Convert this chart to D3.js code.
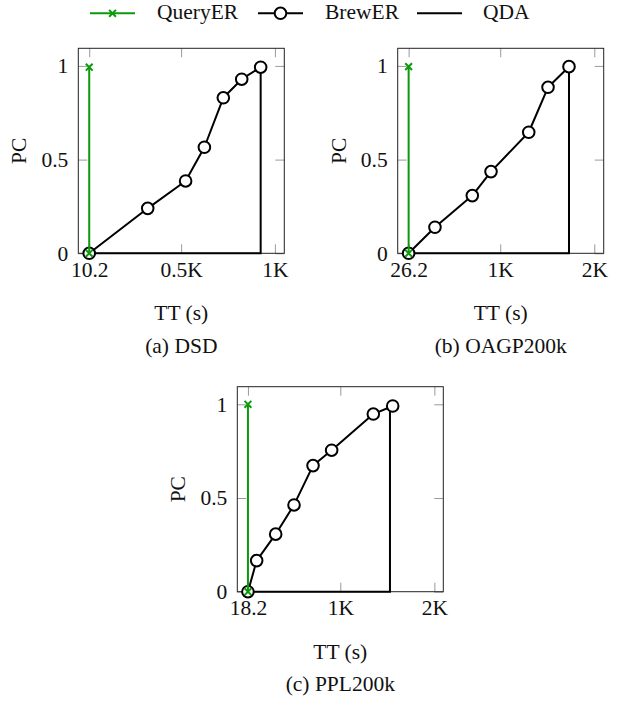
<!DOCTYPE html>
<html>
<head>
<meta charset="utf-8">
<script src="https://cdn.jsdelivr.net/npm/d3@7"></script>
<style>
  body { margin: 0; background: #fff; }
  svg text { font-family: "Liberation Serif", "Times New Roman", "DejaVu Serif", serif !important; fill: #111; }
</style>
</head>
<body>
<script>
// ---- data ----------------------------------------------------------------
var seriesNames = ["QueryER", "BrewER", "QDA"];
var panelCaptions = ["(a) DSD", "(b) OAGP200k", "(c) PPL200k"];
var yTicks = [0, 0.5, 1],
    yTickLabels = ["0", "0.5", "1"];

// (a) DSD
var dsdTicks = [10.2, 500, 1000],
    dsdTickLabels = ["10.2", "0.5K", "1K"];
var dsdBrewX = [10.2, 322, 524, 624, 725, 823, 924],
    dsdBrewY = [0, 0.24, 0.386, 0.566, 0.83, 0.929, 0.993];
var dsdQueryX = [10.2, 10.2], dsdQueryY = [0, 0.993];
var dsdQdaX = [10.2, 924, 924], dsdQdaY = [0, 0, 0.993];

// (b) OAGP200k
var oagpTicks = [26.2, 1000, 2000],
    oagpTickLabels = ["26.2", "1K", "2K"];
var oagpBrewX = [26.2, 306, 703, 902, 1303, 1508, 1731],
    oagpBrewY = [0, 0.139, 0.308, 0.436, 0.646, 0.886, 0.996];
var oagpQueryX = [26.2, 26.2], oagpQueryY = [0, 0.996];
var oagpQdaX = [26.2, 1731, 1731], oagpQdaY = [0, 0, 0.996];

// (c) PPL200k
var pplTicks = [18.2, 1000, 2000],
    pplTickLabels = ["18.2", "1K", "2K"];
var pplBrewX = [18.2, 111, 313, 508, 710, 908, 1351, 1557],
    pplBrewY = [0, 0.166, 0.307, 0.463, 0.673, 0.755, 0.948, 0.991];
var pplQueryX = [18.2, 18.2], pplQueryY = [0, 1.0];
var pplQdaX = [18.2, 1528, 1528], pplQdaY = [0, 0, 0.99];

// ---- layout ---------------------------------------------------------------
var W = 624, H = 702, FS = 21.5;
var green = "#0a9a0a";
var plotW = 206, plotH = 205;
var serif = "'Liberation Serif', 'Times New Roman', 'DejaVu Serif', serif";

var svg = d3.select("body").append("svg")
    .attr("width", W).attr("height", H)
    .attr("font-family", serif);

function zip(xs, ys) {
  return xs.map(function(v, i) { return {x: v, y: ys[i]}; });
}

function cross(g, cx, cy, s) {
  g.append("path")
    .attr("d", "M" + (cx - s) + "," + (cy - s) + "L" + (cx + s) + "," + (cy + s) +
               "M" + (cx - s) + "," + (cy + s) + "L" + (cx + s) + "," + (cy - s))
    .attr("stroke", green).attr("stroke-width", 2).attr("fill", "none");
}

function label(x, y, txt, anchor) {
  return svg.append("text")
    .attr("x", x).attr("y", y)
    .attr("text-anchor", anchor || "middle")
    .style("font-family", serif)
    .style("font-size", FS + "px")
    .text(txt);
}

function drawPanel(p) {
  var g = svg.append("g").attr("transform", "translate(" + p.left + "," + p.top + ")");

  var x = d3.scaleLinear().domain(p.xDomain).range([0, plotW]);
  var y = d3.scaleLinear().domain([0, 1.094]).range([plotH, 0]);

  // tick marks on all four sides, pointing inwards
  var tickStyle = function(sel) {
    sel.attr("font-family", serif);
    sel.select(".domain").remove();
    sel.selectAll(".tick line").attr("stroke", "#9a9a9a").attr("stroke-width", 1);
    sel.selectAll("text").style("font-size", FS + "px").style("font-family", serif).attr("fill", "#111");
  };
  g.append("g").attr("transform", "translate(0," + plotH + ")")
    .call(d3.axisBottom(x).tickValues(p.ticks).tickSize(-9).tickPadding(8)
      .tickFormat(function(d, i) { return p.tickLabels[i]; }))
    .call(tickStyle);
  g.append("g")
    .call(d3.axisTop(x).tickValues(p.ticks).tickSize(-9).tickFormat(""))
    .call(tickStyle);
  g.append("g")
    .call(d3.axisLeft(y).tickValues(yTicks).tickSize(-9).tickPadding(10)
      .tickFormat(function(d, i) { return yTickLabels[i]; }))
    .call(tickStyle);
  g.append("g").attr("transform", "translate(" + plotW + ",0)")
    .call(d3.axisRight(y).tickValues(yTicks).tickSize(-9).tickFormat(""))
    .call(tickStyle);

  // frame
  g.append("rect").attr("width", plotW).attr("height", plotH)
    .attr("fill", "none").attr("stroke", "#222").attr("stroke-width", 1);

  var line = d3.line().x(function(d) { return x(d.x); }).y(function(d) { return y(d.y); });

  // QDA
  g.append("path").datum(zip(p.qdaX, p.qdaY))
    .attr("d", line).attr("fill", "none").attr("stroke", "#000").attr("stroke-width", 2);

  // BrewER
  var brew = zip(p.brewX, p.brewY);
  g.append("path").datum(brew)
    .attr("d", line).attr("fill", "none").attr("stroke", "#000").attr("stroke-width", 2)
    .attr("stroke-linejoin", "round");
  g.selectAll(".brew").data(brew).enter().append("circle")
    .attr("class", "brew")
    .attr("cx", function(d) { return x(d.x); })
    .attr("cy", function(d) { return y(d.y); })
    .attr("r", 5.8)
    .attr("fill", "#fff").attr("stroke", "#000").attr("stroke-width", 2);

  // QueryER
  var q = zip(p.queryX, p.queryY);
  g.append("path").datum(q)
    .attr("d", line).attr("fill", "none").attr("stroke", green).attr("stroke-width", 2);
  q.forEach(function(d) { cross(g, x(d.x), y(d.y), 3.4); });

  // labels
  svg.append("text")
    .attr("transform", "translate(" + (p.left - 52) + "," + (p.top + plotH / 2) + ") rotate(-90)")
    .attr("text-anchor", "middle")
    .style("font-family", serif)
    .style("font-size", FS + "px")
    .text("PC");
  var cx = p.left + plotW / 2;
  label(cx, p.top + plotH + 67, "TT (s)");
  label(cx, p.top + plotH + 99.5, p.caption);
}

drawPanel({left: 78.3, top: 48.3, xDomain: [-48, 1050], ticks: dsdTicks, tickLabels: dsdTickLabels,
  brewX: dsdBrewX, brewY: dsdBrewY, queryX: dsdQueryX, queryY: dsdQueryY,
  qdaX: dsdQdaX, qdaY: dsdQdaY, caption: panelCaptions[0]});

drawPanel({left: 397.7, top: 48.3, xDomain: [-90, 2100], ticks: oagpTicks, tickLabels: oagpTickLabels,
  brewX: oagpBrewX, brewY: oagpBrewY, queryX: oagpQueryX, queryY: oagpQueryY,
  qdaX: oagpQdaX, qdaY: oagpQdaY, caption: panelCaptions[1]});

drawPanel({left: 237.3, top: 386.7, xDomain: [-95, 2095], ticks: pplTicks, tickLabels: pplTickLabels,
  brewX: pplBrewX, brewY: pplBrewY, queryX: pplQueryX, queryY: pplQueryY,
  qdaX: pplQdaX, qdaY: pplQdaY, caption: panelCaptions[2]});

// ---- legend ---------------------------------------------------------------
var legend = svg.append("g");
var legendLineX = [90, 258, 417], legendTextX = [157, 325, 483];
var ly = 13.3;
seriesNames.forEach(function(name, i) {
  var x0 = legendLineX[i];
  legend.append("line")
    .attr("x1", x0).attr("x2", x0 + 45).attr("y1", ly).attr("y2", ly)
    .attr("stroke", i === 0 ? green : "#000").attr("stroke-width", 2);
  if (i === 0) cross(legend, x0 + 22.5, ly, 3.4);
  if (i === 1) legend.append("circle").attr("cx", x0 + 22.5).attr("cy", ly).attr("r", 5.8)
    .attr("fill", "#fff").attr("stroke", "#000").attr("stroke-width", 2);
  label(legendTextX[i], 18.5, name, "start");
});
</script>
</body>
</html>
